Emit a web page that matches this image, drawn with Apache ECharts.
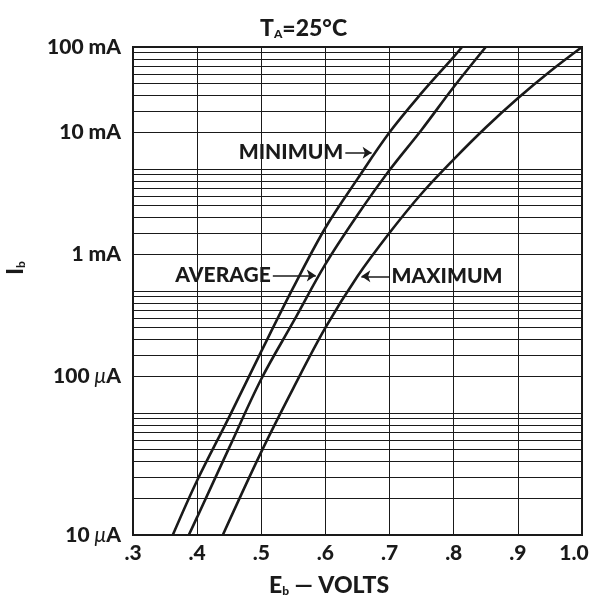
<!DOCTYPE html>
<html>
<head>
<meta charset="utf-8">
<title>Forward characteristic</title>
<script src="https://cdn.jsdelivr.net/npm/echarts@6/dist/echarts.min.js"></script>
<style>
  html, body { margin: 0; padding: 0; background: #ffffff; }
  #chart { width: 593px; height: 595px; }
</style>
</head>
<body>
<div id="chart"></div>
<script>
// Forward bias Eb (volts) against current Ib (mA), three production spreads
const minV = [0.362, 0.40, 0.45, 0.50, 0.55, 0.60, 0.65, 0.70, 0.75, 0.80, 0.813];
const minI = [0.010, 0.028, 0.093, 0.32, 1.07, 3.3, 8.3, 20, 42, 83, 100];

const avgV = [0.387, 0.40, 0.45, 0.50, 0.55, 0.60, 0.65, 0.70, 0.75, 0.80, 0.85];
const avgI = [0.010, 0.014, 0.052, 0.19, 0.56, 1.66, 4.2, 9.8, 21, 47, 100];

const maxV = [0.44, 0.50, 0.55, 0.60, 0.65, 0.70, 0.75, 0.80, 0.85, 0.90, 0.95, 1.00];
const maxI = [0.010, 0.048, 0.16, 0.50, 1.32, 3.0, 6.3, 12.0, 21.9, 38, 63, 100];

// Axis text
const xTickText = ['.3', '.4', '.5', '.6', '.7', '.8', '.9', '{last|1.0}'];
const yTickText = ['10 {mu|μ}A', '100 {mu|μ}A', '1 mA', '10 mA', '100 mA'];
const yTickRows = [0.01, 0.2, 2, 20, 100];   // rows (mA) that carry the scale text

// Log ruling: decades and the 1..9 steps inside each
const decades = [0.01, 0.1, 1, 10];
const steps = [1, 2, 3, 4, 5, 6, 7, 8, 9];

// Callout arrows: [text, fromV, toV, current mA]
const callouts = [
  ['MINIMUM', 0.631, 0.672, 13.6],
  ['AVERAGE', 0.518, 0.585, 1.34],
  ['MAXIMUM', 0.700, 0.656, 1.32]
];

const FONT = 'Lato';
const W = 900;
const INK = '#1a1a1a';

const pairs = (xs, ys) => xs.map((x, i) => [x, ys[i]]);

const rowValues = [];
decades.forEach(d => steps.forEach(k => rowValues.push(+(d * k).toPrecision(3))));
rowValues.push(100);

const labelStyle = {
  color: INK, fontFamily: FONT, fontWeight: W, fontSize: 21,
  rich: {
    mu: { fontFamily: FONT, fontStyle: 'italic', fontWeight: 'normal', fontSize: 21, color: INK }
  }
};

const ruleData = rowValues.map(v => {
  const idx = yTickRows.findIndex(r => Math.abs(r - v) < 1e-9);
  const item = { yAxis: v };
  if (idx >= 0) {
    item.label = Object.assign({
      show: true, position: 'start', distance: 12,
      formatter: yTickText[idx]
    }, labelStyle);
  }
  return item;
});

const calloutData = callouts.map(([text, v0, v1, cur]) => [
  {
    coord: [v0, cur],
    label: {
      show: true, position: 'start', distance: 2, formatter: text,
      color: INK, fontFamily: FONT, fontWeight: W, fontSize: 21
    }
  },
  { coord: [v1, cur] }
]);

const curve = (name, xs, ys) => ({
  name, type: 'line', data: pairs(xs, ys),
  showSymbol: false, smooth: 0.35, z: 5,
  lineStyle: { color: INK, width: 2.6 }
});

const subRich = {
  s: { fontFamily: FONT, fontWeight: W, fontSize: 12, color: INK, verticalAlign: 'bottom', padding: [10, 0, 0, 0] },
  t: { fontFamily: FONT, fontWeight: W, fontSize: 23, color: INK }
};

const chart = echarts.init(document.getElementById('chart'), null, { renderer: 'canvas' });

chart.setOption({
  animation: false,
  backgroundColor: '#ffffff',
  title: [
    {
      text: '{t|T}{s|A}{t|=25°C}',
      left: 255, top: 12,
      textStyle: { color: INK, fontFamily: FONT, fontWeight: W, fontSize: 23, rich: subRich }
    },
    {
      text: '{t|E}{s|b}{t| — VOLTS}',
      left: 264, top: 569,
      textStyle: { color: INK, fontFamily: FONT, fontWeight: W, fontSize: 23, rich: subRich }
    }
  ],
  graphic: [
    {
      type: 'text', x: 16, y: 268, rotation: Math.PI / 2,
      style: {
        text: '{t|I}{s|b}', fill: INK, align: 'center', verticalAlign: 'middle',
        rich: {
          t: { fontFamily: FONT, fontWeight: W, fontSize: 22, fill: INK },
          s: { fontFamily: FONT, fontWeight: W, fontSize: 12, fill: INK, verticalAlign: 'bottom', padding: [10, 0, 0, 0] }
        }
      }
    }
  ],
  grid: {
    left: 133, right: 11, top: 47, bottom: 60,
    show: true, borderColor: INK, borderWidth: 2, backgroundColor: 'transparent',
    outerBoundsMode: 'none'
  },
  xAxis: {
    type: 'value', min: 0.3, max: 1.0, interval: 0.1,
    axisLine: { show: true, lineStyle: { color: INK, width: 2 } },
    axisTick: { show: false },
    splitLine: { show: true, lineStyle: { color: INK, width: 1 } },
    axisLabel: {
      margin: 8, color: INK, fontFamily: FONT, fontWeight: W, fontSize: 21,
      formatter: v => xTickText[Math.round((v - 0.3) * 10)],
      rich: {
        last: { fontFamily: FONT, fontWeight: W, fontSize: 21, color: INK, padding: [0, 16, 0, 0] }
      }
    }
  },
  yAxis: {
    type: 'log', logBase: 10, min: 0.01, max: 100,
    axisLine: { show: true, lineStyle: { color: INK, width: 2 } },
    axisTick: { show: false },
    axisLabel: { show: false },
    splitLine: { show: false }
  },
  series: [
    {
      name: 'ruling', type: 'line', data: [], silent: true, z: 1,
      markLine: {
        silent: true, symbol: 'none', animation: false,
        lineStyle: { color: INK, width: 1, type: 'solid' },
        label: { show: false },
        emphasis: { disabled: true },
        data: ruleData
      }
    },
    curve('Minimum', minV, minI),
    curve('Average', avgV, avgI),
    curve('Maximum', maxV, maxI),
    {
      name: 'callouts', type: 'line', data: [], silent: true, z: 6,
      markLine: {
        silent: true, symbol: ['none', 'arrow'], symbolSize: 9,
        animation: false,
        lineStyle: { color: INK, width: 1.5, type: 'solid' },
        emphasis: { disabled: true },
        data: calloutData
      }
    }
  ]
});
</script>
</body>
</html>
